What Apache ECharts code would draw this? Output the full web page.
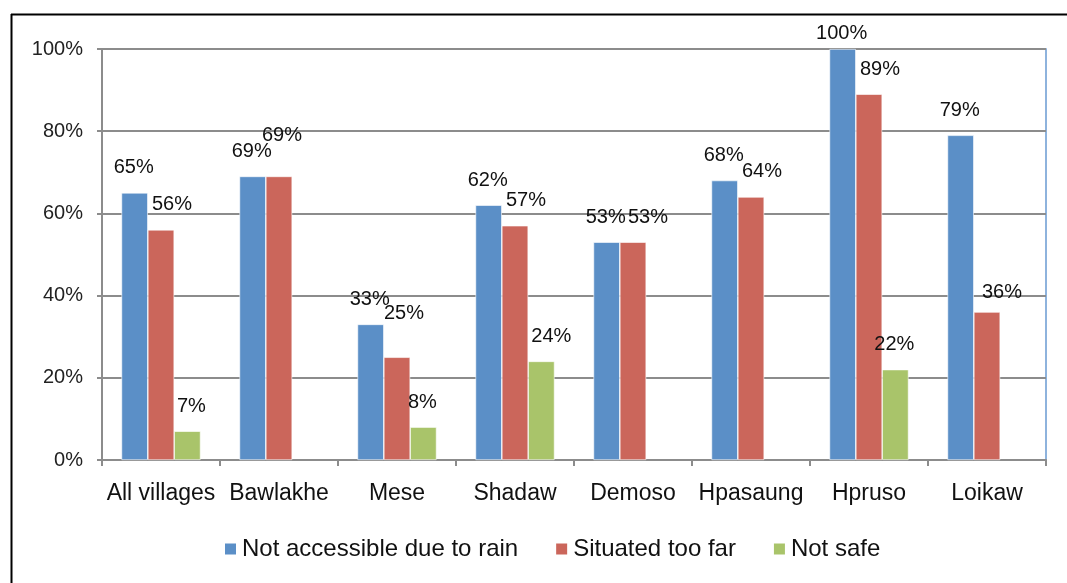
<!DOCTYPE html>
<html>
<head>
<meta charset="utf-8">
<script src="https://cdn.jsdelivr.net/npm/echarts@6/dist/echarts.min.js"></script>
<style>
html,body{margin:0;padding:0;background:#fff;}
#chart{width:1067px;height:583px;}
</style>
</head>
<body>
<div id="chart"></div>
<script>
const categories = ['All villages','Bawlakhe','Mese','Shadaw','Demoso','Hpasaung','Hpruso','Loikaw'];
const seriesNames = ['Not accessible due to rain','Situated too far','Not safe'];
const rainValues = [65, 69, 33, 62, 53, 68, 100, 79];
const farValues  = [56, 69, 25, 57, 53, 64, 89, 36];
const unsafeValues = [7, null, 8, 24, null, null, 22, null];
const yTicks = [0, 20, 40, 60, 80, 100];

const colors = ['#5b8fc7', '#cb665b', '#a9c46a'];
const baseOffsets = [[-1, 0], [11, 0], [4, 0]];
// label nudges (series index -> category index -> [dx, dy])
const labelNudge = {
  0: {6: [0, 9]},
  1: {1: [-8, -16], 2: [-4, -19], 4: [4, 0], 7: [4, 5]},
  2: {2: [-5, 0], 3: [6, 0], 6: [-5, 0]}
};

function buildData(values, si) {
  return values.map((v, ci) => {
    if (v === null) return null;
    const n = (labelNudge[si] && labelNudge[si][ci]) || [0, 0];
    const b = baseOffsets[si];
    return {value: v, label: {offset: [b[0] + n[0], b[1] + n[1]]}};
  });
}

const all = [rainValues, farValues, unsafeValues];
const chart = echarts.init(document.getElementById('chart'), null, {renderer: 'canvas'});
const font = 'Liberation Sans, Arial, Helvetica, sans-serif';

chart.setOption({
  animation: false,
  textStyle: {fontFamily: font},
  graphic: [
    {type: 'line', shape: {x1: 11.5, y1: 14, x2: 11.5, y2: 583}, style: {stroke: '#000', lineWidth: 2}},
    {type: 'line', shape: {x1: 11, y1: 14.5, x2: 1067, y2: 14.5}, style: {stroke: '#000', lineWidth: 2}}
  ],
  grid: {left: 102, right: 21, top: 49, bottom: 123, show: true, borderColor: '#6a9bd2', borderWidth: 1.5, backgroundColor: 'transparent'},
  legend: {
    top: 532, left: 218,
    itemWidth: 13, itemHeight: 13, itemGap: 36,
    icon: 'rect',
    textStyle: {fontSize: 24, color: '#111', fontFamily: font},
    data: seriesNames
  },
  xAxis: {
    type: 'category', data: categories,
    axisLine: {lineStyle: {color: '#8c8c8c', width: 2}},
    axisTick: {show: true, length: 6, lineStyle: {color: '#8c8c8c', width: 2}},
    axisLabel: {fontSize: 23, color: '#111', margin: 22, interval: 0, fontFamily: font}
  },
  yAxis: {
    type: 'value', min: 0, max: 100, interval: 20,
    axisLine: {show: true, lineStyle: {color: '#8c8c8c', width: 2}},
    axisTick: {show: true, length: 5, lineStyle: {color: '#8c8c8c', width: 2}},
    splitLine: {show: true, lineStyle: {color: '#8c8c8c', width: 2}},
    axisLabel: {fontSize: 20, color: '#222', margin: 19, fontFamily: font,
      formatter: v => yTicks.includes(v) ? v + '%' : ''}
  },
  series: all.map((vals, si) => ({
    name: seriesNames[si],
    type: 'bar',
    data: buildData(vals, si),
    barGap: '0%',
    barCategoryGap: '33%',
    itemStyle: {color: colors[si], borderColor: '#fff', borderWidth: 0.6},
    label: {show: true, position: 'top', distance: 15, fontSize: 20, color: '#111', fontFamily: font,
      formatter: p => p.value + '%'}
  }))
});
</script>
</body>
</html>
